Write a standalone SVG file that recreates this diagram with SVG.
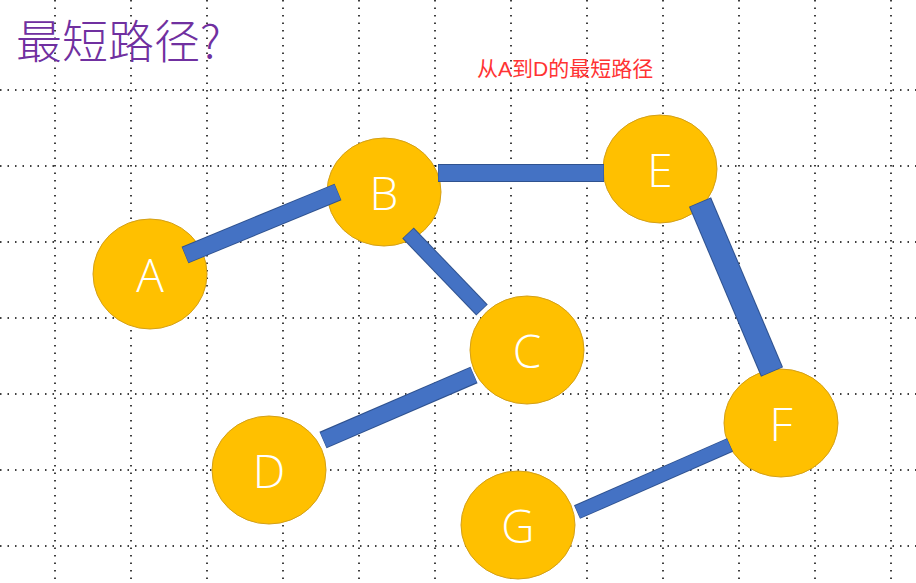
<svg xmlns="http://www.w3.org/2000/svg" width="916" height="583" viewBox="0 0 916 583">
<style>
.g{stroke:#000;stroke-width:1.5;stroke-dasharray:1.5 6;fill:none}
.n ellipse{fill:#ffc000;stroke:#d4a017;stroke-width:1}
.n text{fill:#fff;font-family:"Open Sans","Liberation Sans",sans-serif;font-weight:300;font-size:46px;text-anchor:middle}
.e line{stroke:#4472c4;stroke-linecap:butt}
.e2 line{stroke:#2f528f;stroke-linecap:butt}
</style>
<rect width="916" height="583" fill="#fff"/>
<g id="grid">
<path class="g" d="M0 90H916M0 166H916M0 242H916M0 318H916M0 394H916M0 470H916M0 546H916"/>
<path class="g" d="M55 0V583M131 0V583M207 0V583M283 0V583M359 0V583M435 0V583M511 0V583M587 0V583M663 0V583M739 0V583M815 0V583M891 0V583"/>
</g>
<text x="16" y="58" font-family="Noto Sans CJK SC,sans-serif" font-size="46" font-weight="300" fill="#7030a0">最短路径?</text>
<text x="477" y="76" font-family="Liberation Sans,Noto Sans CJK SC,sans-serif" font-size="21" fill="#ff3333">从A到D的最短路径</text>
<g id="nodes">
<g id="A" class="n"><ellipse cx="150" cy="274" rx="57" ry="55"/><text x="150" y="292">A</text></g>
<g id="B" class="n"><ellipse cx="384" cy="192" rx="57" ry="54"/><text x="384" y="210">B</text></g>
<g id="E" class="n"><ellipse cx="660" cy="169" rx="57" ry="54"/><text x="660" y="187">E</text></g>
<g id="C" class="n"><ellipse cx="527" cy="350" rx="57" ry="54"/><text x="527" y="368">C</text></g>
<g id="D" class="n"><ellipse cx="269" cy="470" rx="57" ry="54"/><text x="269" y="488">D</text></g>
<g id="F" class="n"><ellipse cx="781" cy="423" rx="57" ry="54"/><text x="781" y="441">F</text></g>
<g id="G" class="n"><ellipse cx="518" cy="525" rx="57" ry="54"/><text x="518" y="543">G</text></g>
</g>
<g id="connectors">
<g class="e2">
<line x1="185" y1="255" x2="338" y2="192" stroke-width="18"/>
<line x1="438" y1="173" x2="604" y2="173" stroke-width="18"/>
<line x1="408" y1="233" x2="482" y2="310" stroke-width="16"/>
<line x1="474" y1="375" x2="323" y2="440" stroke-width="18"/>
<line x1="700" y1="202" x2="772" y2="372" stroke-width="24"/>
<line x1="730" y1="445" x2="577" y2="512" stroke-width="15"/>
</g>
<g class="e">
<line x1="185.5" y1="255" x2="337.5" y2="192" stroke-width="16"/>
<line x1="438.5" y1="173" x2="603.5" y2="173" stroke-width="16"/>
<line x1="408.5" y1="233.5" x2="481.5" y2="309.5" stroke-width="14"/>
<line x1="473.5" y1="375" x2="323.5" y2="440" stroke-width="16"/>
<line x1="700.3" y1="202.7" x2="771.7" y2="371.3" stroke-width="22"/>
<line x1="729.5" y1="445" x2="577.5" y2="512" stroke-width="13"/>
</g>
</g>
</svg>
